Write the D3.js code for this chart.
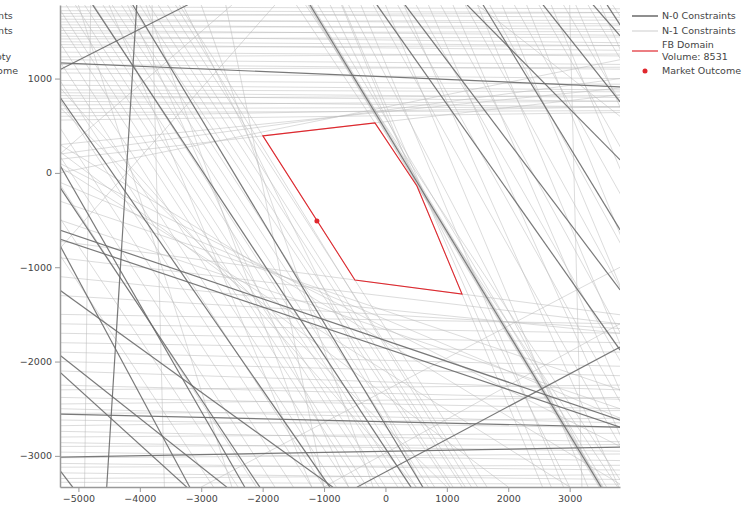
<!DOCTYPE html>
<html><head><meta charset="utf-8">
<script src="https://cdn.jsdelivr.net/npm/d3@7"></script>
<style>body{margin:0;background:#fff}svg{display:block}text{font-family:"DejaVu Sans",Verdana,sans-serif}</style>
</head><body><svg id="c" width="743" height="508"></svg>
<script>
// ---------- data (MW units) ----------
const xTicks = [-5000,-4000,-3000,-2000,-1000,0,1000,2000,3000];
const yTicks = [1000,0,-1000,-2000,-3000];
const xDomain = [-5300, 3820];
const yDomain = [-3330, 1780];

// N-0 constraints: [x1, y1, x2, y2]
const n0Lines = [
  [-5305,1167, 3822,912],
  [-5305,1093, -3219,1782],
  [-4050,1782, -4539,-3332],
  [-5305,-605, 3822,-2621],
  [-5305,-700, 3822,-2695],
  [-5305,-2557, 3822,-2695],
  [-5305,-3013, 3822,-2907],
  [-465,-3332, 3822,-1846],
  [-1230,1782, 3515,-3332],
  [-4768,1782, 416,-3332],
  [-4116,1782, 611,-3332],
  [-139,1782, 3822,-1878],
  [318,1782, 3822,-1241],
  [1328,1782, 3822,138],
  [1589,1782, 3822,-605],
  [2567,1782, 3822,753],
  [3382,1782, 3822,1454],
  [3610,1782, 3822,1570],
  [-5305,85, -2290,-3332],
  [-5305,-764, -3186,-3332],
  [-5305,-1241, -855,-3332],
  [-5305,-1931, -2583,-3332],
  [-5305,-2111, -3235,-3332],
  [-5305,-3151, -5093,-3332],
  [-5305,806, -905,-3332],
  [-5305,-149, -2046,-3332]
];

// N-1 constraints, near-horizontal: [y at x=-5300, y at x=3820]
const n1Horizontal = [
  [1760,1740],[1720,1700],[1690,1650],[1660,1700],[1630,1580],[1600,1620],[1570,1520],[1540,1560],
  [1510,1460],[1480,1500],[1450,1380],[1420,1440],[1390,1350],[1360,1300],[1330,1350],[1280,1240],
  [1230,1260],[1200,1150],[1150,1100],[1100,1120],[1060,1000],[980,940],[930,880],[880,860],
  [850,800],[820,760],[790,820],[760,700],[720,760],[680,700],[640,660],[600,700],[560,640],
  [145,829],[300,900],[200,1000],[0,1200],
  [-2250,-2400],[-2300,-2250],[-2380,-2500],[-2450,-2380],[-2500,-2650],[-2550,-2520],[-2620,-2700],
  [-2680,-2600],[-2740,-2850],[-2800,-2760],[-2860,-2950],[-2900,-2880],[-2960,-3050],[-3020,-2980],
  [-3080,-3150],[-3120,-3100],[-3180,-3250],[-3240,-3200],[-3280,-3300],[-2100,-2300],[-2000,-2150],
  [-1900,-2050],[-1800,-1900],[-1700,-1800],[-1600,-1700],[-1500,-1600],[-725,-1504],[-900,-1600],
  [-1100,-1700],[-1300,-1650],[-500,-2500],[-300,-2300],[-100,-2600],[100,-2900],[300,-3300]
];

// N-1 constraints, steep: [x at y=1780, x at y=-3330]
const n1Steep = [
  [-3420,1400],[-3550,1500],[-3700,1300],[-3850,1250],[-4000,1100],[-4150,1050],[-4300,800],
  [-4450,700],[-4600,500],[-4750,300],[-4900,200],[-5050,0],[-5200,-100],[-5350,-300],[-5500,-400],
  [-5700,-600],[-5900,-800],[-6100,-1000],[-6300,-1200],[-6600,-1500],[-6900,-1800],[-7200,-2100],
  [-7600,-2400],[-8000,-2800],[-3356,1654],
  [-3300,600],[-3000,-200],[-2600,-1000],[-4500,-1200],[-4200,-600],[-5000,-2500],[-3900,-1000],
  [-7000,1000],[-8500,2000],[-6500,500],[-9500,3000],
  [-1260,3480],[-1247,3496],[-1215,3530],[-1200,3545],
  [-1450,3780],[-716,2558],[-1300,3900],[-1100,3600],[-900,3000],[-700,2700],[-600,3500],[-400,2900],
  [-200,4200],[0,3300],[200,4600],[300,3800],[500,5000],[700,4200],[900,5200],[1100,4500],
  [1300,5600],[1500,4800],[1700,6000],[1900,5200],[2100,6500],[2300,5500],[2500,7000],
  [2700,6000],[2900,7500],[3100,6500],[3300,8000],[3500,7000],[3700,9000],
  [-4800,-4900],[-3800,-3600],[3000,3200]
];

// N-1 constraints, other: [x1, y1, x2, y2]
const n1Other = [
  [-1000,-3330, 3820,-1600],
  [-3000,-3330, 3820,-1000],
  [-5300,200, -2500,1780],
  [-5300,-800, -1800,1780],
  [1500,1780, 3820,600]
];

const fbDomain = [[-1996,393],[-171,530],[513,-138],[1247,-1284],[-497,-1135]];
const marketOutcome = [-1116,-509];
const fbVolume = 8531;
const legendLabels = ["N-0 Constraints","N-1 Constraints","FB Domain","Volume: " + fbVolume,"Market Outcome"];
const leftLegendLabels = ["N-0 Constraints","N-1 Constraints","FB Domain","Volume: empty","Market Outcome"];

// ---------- drawing ----------
const svg = d3.select("#c");
const x = d3.scaleLinear().domain(xDomain).range([60, 620]);
const y = d3.scaleLinear().domain(yDomain).range([487, 5]);
const N0 = "#6a6a6a", N1 = "rgba(185,185,185,0.5)", N1L = "#dedede", RED = "#e0282e";
const FS = "9.5px";

svg.append("defs").append("clipPath").attr("id","plotclip")
  .append("rect").attr("x",60).attr("y",5).attr("width",560).attr("height",482);
const plot = svg.append("g").attr("clip-path","url(#plotclip)");

const seg = [];
n1Horizontal.forEach(d => seg.push([xDomain[0], d[0], xDomain[1], d[1]]));
n1Steep.forEach(d => seg.push([d[0], yDomain[1], d[1], yDomain[0]]));
n1Other.forEach(d => seg.push(d));

plot.selectAll("line.n1").data(seg).join("line").attr("class","n1")
  .attr("x1",d=>x(d[0])).attr("y1",d=>y(d[1])).attr("x2",d=>x(d[2])).attr("y2",d=>y(d[3]))
  .attr("stroke",N1).attr("stroke-width",1);

plot.selectAll("line.n0").data(n0Lines).join("line").attr("class","n0")
  .attr("x1",d=>x(d[0])).attr("y1",d=>y(d[1])).attr("x2",d=>x(d[2])).attr("y2",d=>y(d[3]))
  .attr("stroke",N0).attr("stroke-width",1.2).attr("stroke-opacity",0.9);

plot.append("path").datum(fbDomain)
  .attr("d", d3.line().x(d=>x(d[0])).y(d=>y(d[1])).curve(d3.curveLinearClosed))
  .attr("fill","none").attr("stroke",RED).attr("stroke-width",1.1);

plot.append("circle").attr("cx",x(marketOutcome[0])).attr("cy",y(marketOutcome[1])).attr("r",2.5).attr("fill",RED);

// axes
const fmt = d3.format("d");
const gx = svg.append("g").attr("transform","translate(0,487)")
  .call(d3.axisBottom(x).tickValues(xTicks).tickFormat(fmt).tickSize(5).tickSizeOuter(0).tickPadding(3));
const gy = svg.append("g").attr("transform","translate(60,0)")
  .call(d3.axisLeft(y).tickValues(yTicks).tickFormat(fmt).tickSize(5).tickSizeOuter(0).tickPadding(3));
[gx, gy].forEach(g => {
  g.select(".domain").attr("stroke","#999").attr("stroke-width",1.5);
  g.selectAll(".tick line").attr("stroke","#999");
  g.selectAll(".tick text").attr("fill","#444").style("font-size",FS).style("font-family","DejaVu Sans, Verdana, sans-serif");
});

// legends
function legend(tx, labels) {
  const g = svg.append("g").attr("transform",`translate(${tx},0)`);
  g.append("line").attr("x1",0).attr("x2",26).attr("y1",16).attr("y2",16).attr("stroke",N0).attr("stroke-width",1.5);
  g.append("line").attr("x1",0).attr("x2",26).attr("y1",31).attr("y2",31).attr("stroke",N1L).attr("stroke-width",1.5);
  g.append("line").attr("x1",0).attr("x2",26).attr("y1",51).attr("y2",51).attr("stroke",RED).attr("stroke-width",1.2);
  g.append("circle").attr("cx",13).attr("cy",71).attr("r",2.5).attr("fill",RED);
  const ys = [16,31,45,57,71];
  g.selectAll("text").data(labels).join("text")
    .attr("x",30).attr("y",(d,i)=>ys[i]).attr("dy","0.35em")
    .attr("fill","#444").style("font-size",FS).text(d=>d);
}
legend(632, legendLabels);
legend(-91, leftLegendLabels);
</script></body></html>
